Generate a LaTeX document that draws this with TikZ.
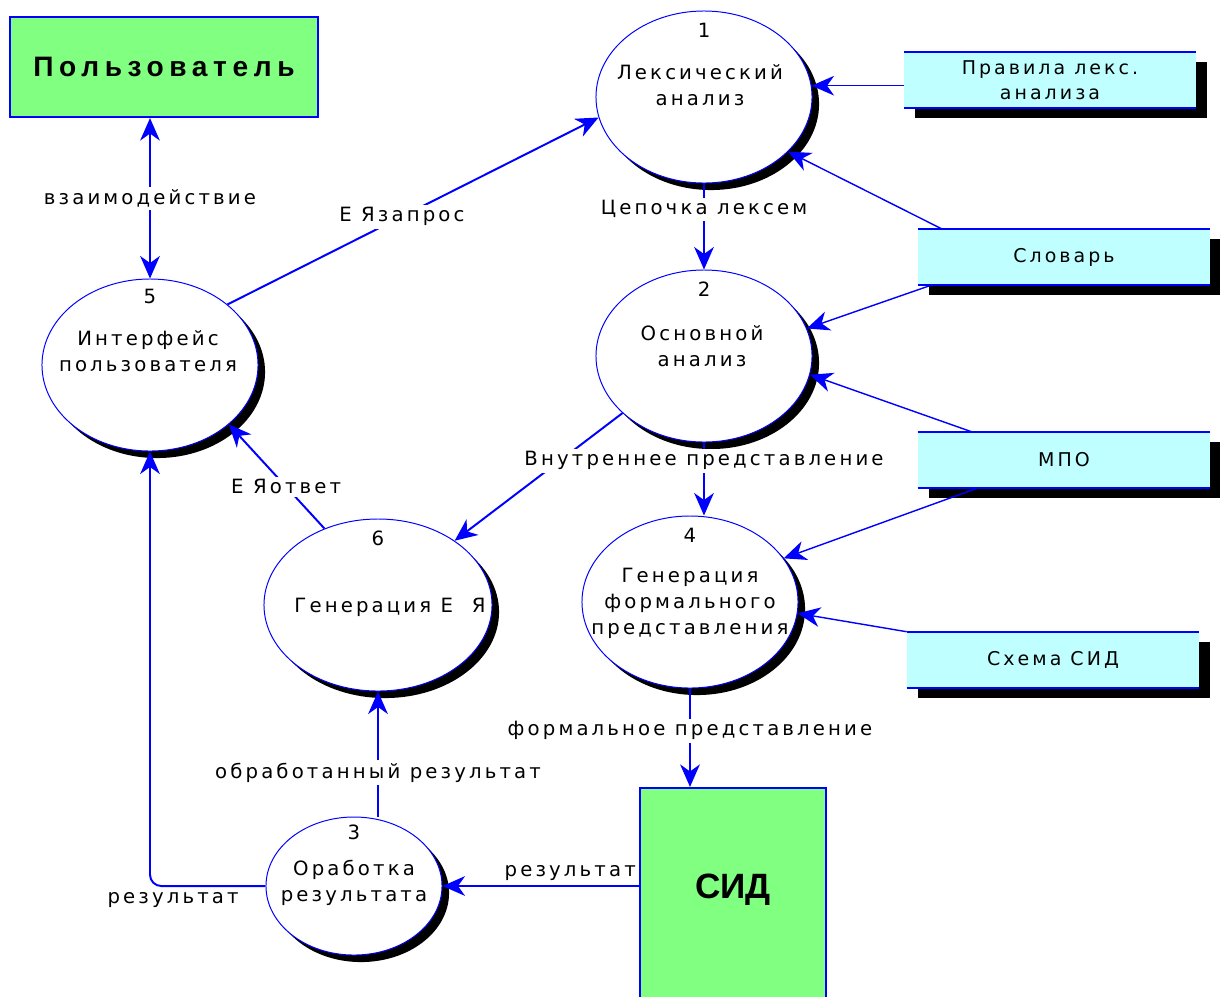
\documentclass[tikz,border=0pt]{standalone}
\usepackage{fontspec}
\setmainfont{Liberation Sans}
\newfontfamily\dfd[LetterSpace=16]{DejaVu Sans}
\newfontfamily\dfdb[LetterSpace=20]{Liberation Sans}
\usepackage{tikz}
\usetikzlibrary{positioning,arrows.meta,shapes.geometric,shadows}

\definecolor{dfdblue}{RGB}{0,0,255}
\definecolor{entgreen}{RGB}{128,255,128}
\definecolor{storecyan}{RGB}{192,255,255}

\begin{document}
\begin{tikzpicture}[
  x=0.025cm, y=-0.025cm,
  >={Stealth[length=16pt,width=14pt,inset=5pt]},
  proc/.style={ellipse, draw=dfdblue, line width=0.7pt, fill=white, minimum width=5.4cm, minimum height=4.3cm, inner sep=0pt,
    drop shadow={shadow xshift=5pt, shadow yshift=-5pt, fill=black, opacity=1}},
  sproc/.style={proc, minimum width=4.4cm, minimum height=3.45cm},
  entity/.style={draw=dfdblue, line width=1.5pt, fill=entgreen, inner sep=0pt},
  etext/.style={inner sep=0pt, font=\bfseries\fontsize{25}{30}\selectfont},
  store/.style={fill=storecyan, minimum width=7.3cm, minimum height=1.4cm, inner sep=0pt, align=center,
    font=\dfd\fontsize{13.5}{18}\selectfont,
    drop shadow={shadow xshift=8pt, shadow yshift=-7pt, fill=black, opacity=1}},
  num/.style={inner sep=0pt, font=\dfd\fontsize{14}{17}\selectfont},
  ptext/.style={align=center, inner sep=0pt, font=\dfd\fontsize{14}{18.5}\selectfont},
  lbl/.style={fill=white, inner sep=2pt, font=\dfd\fontsize{14}{16}\selectfont},
  flow/.style={draw=dfdblue, line width=1.4pt, ->},
  sflow/.style={flow, line width=1pt},
  both/.style={flow, <->}
]
\useasboundingbox (0,0) rectangle (1220,996);

% External entities
\node[entity, minimum width=7.7cm, minimum height=2.5cm, font=\dfdb\bfseries\fontsize{20}{24}\selectfont] (user) at (164,67) {Пользователь};
\node[entity, minimum width=4.65cm, minimum height=5.3cm] (sid) at (733,894) {};
\node[etext] (sidt) at (733,890) {СИД};

% Data stores
\node[store] (rules) at (1050,80) {Правила лекс.\\анализа};
\node[store] (dict) at (1064,257) {Словарь};
\node[store] (mpo) at (1064,460) {МПО};
\node[store] (schema) at (1053,660) {Схема СИД};
\foreach \s in {rules,dict,mpo,schema}
  \draw[dfdblue, line width=1.2pt] (\s.north west) -- (\s.north east) (\s.south west) -- (\s.south east);

% Processes
\node[proc] (p1) at (704,97) {};
\node[proc] (p2) at (704,356) {};
\node[proc] (p4) at (690,602) {};
\node[proc] (p5) at (150,365) {};
\node[proc, minimum width=5.7cm] (p6) at (378,605) {};
\node[sproc] (p3) at (354,886) {};

\node[num, below=0.3cm of p1.north] (n1) {1};
\node[num, below=0.3cm of p2.north] (n2) {2};
\node[num, below=0.3cm of p4.north] (n4) {4};
\node[num, below=0.25cm of p5.north] (n5) {5};
\node[num, below=0.3cm of p6.north] (n6) {6};
\node[num, below=0.2cm of p3.north] (n3) {3};

\node[ptext] (t1) at (700,85) {Лексический\\анализ};
\node[ptext] (t2) at (702,346) {Основной\\анализ};
\node[ptext] (t4) at (690,603) {Генерация\\формального\\представления};
\node[ptext] (t5) at (148,351) {Интерфейс\\пользователя};
\node[ptext] (t6) at (390,607) {Генерация Е\ \ Я};
\node[ptext] (t3) at (354,883) {Оработка\\результата};

% Flows
\draw[both] (user.south -| p5.north) -- node[lbl] {взаимодействие} (p5.north);
\draw[flow] (p5.38) -- node[lbl, pos=0.47] {Е Язапрос} (p1.191);
\draw[flow] (p1.south) -- node[lbl, pos=0.3] {Цепочка лексем} (p2.north);
\draw[flow] (p2.215) -- (p6.40);
\draw[flow] (p2.south) -- node[lbl, pos=0.25] {Внутреннее представление} (p2.south |- p4.north);
\draw[flow] (p6.125) -- node[lbl, pos=0.4] {Е Яответ} (p5.-37);
\draw[flow] (p4.south) -- node[lbl, pos=0.43] {формальное представление} (p4.south |- sid.north);
\draw[flow] (sid.west |- p3.east) -- node[lbl, above=1pt, pos=0.35] {результат} (p3.east);
\draw[flow] (p6.south |- p3.north) -- node[lbl, pos=0.35] {обработанный результат} (p6.south);
\draw[flow, rounded corners=8pt] (p3.west) -- node[lbl, below=2pt, pos=0.8] {результат} (p3.west -| p5.south) -- (p5.south);

% Store reads
\draw[sflow] (rules.west |- p1.6) -- (p1.6);
\draw[sflow] (dict.167) -- (p1.-33);
\draw[sflow] (dict.192) -- (p2.15);
\draw[sflow] (mpo.163) -- (p2.-10);
\draw[sflow] (mpo.198) -- (p4.25);
\draw[sflow] (schema.north west) -- (p4.-6);

\end{tikzpicture}
\end{document}
